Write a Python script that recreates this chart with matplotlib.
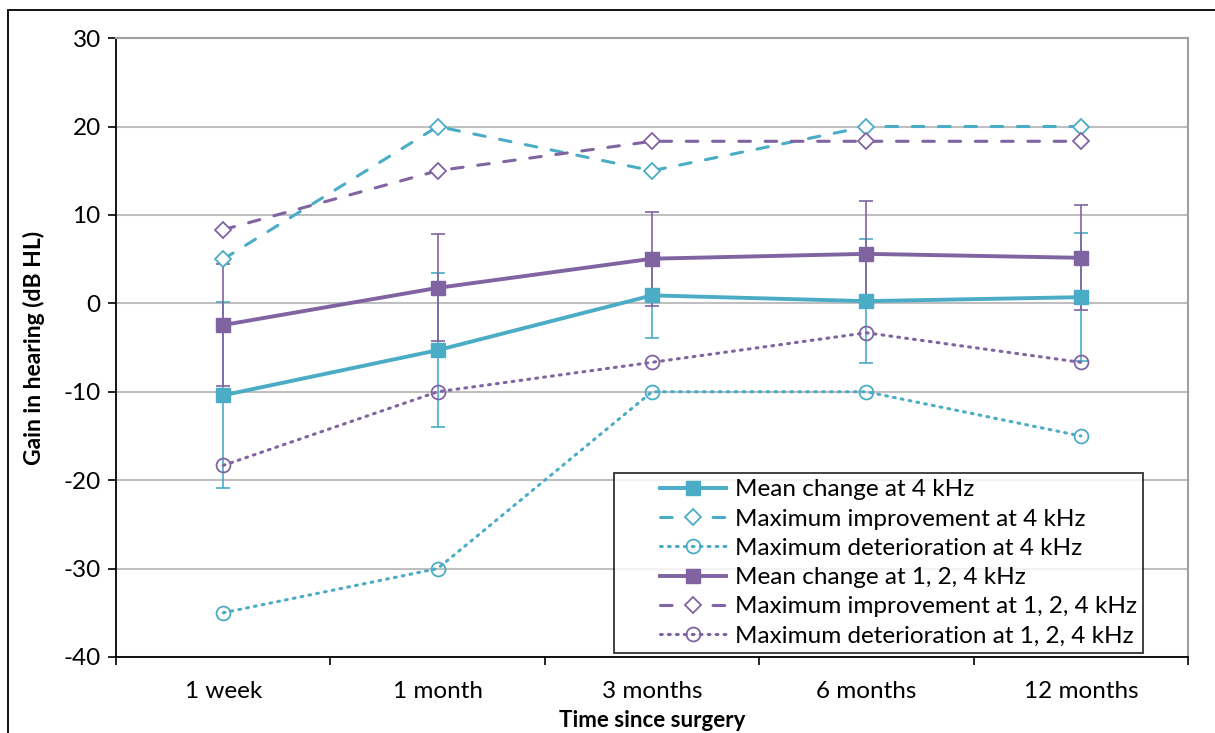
import numpy as np
import matplotlib
matplotlib.use("Agg")
import matplotlib.pyplot as plt
from matplotlib.patches import Rectangle
from matplotlib.lines import Line2D
from matplotlib.legend_handler import HandlerLine2D

plt.rcParams['font.family'] = ['Lato', 'DejaVu Sans']
plt.rcParams['axes.unicode_minus'] = False

# data
times = ['1 week', '1 month', '3 months', '6 months', '12 months']

mean_4k = [-10.4, -5.3, 0.9, 0.25, 0.7]
sd_4k = [10.5, 8.7, 4.8, 7.0, 7.25]
max_imp_4k = [5, 20, 15, 20, 20]
max_det_4k = [-35, -30, -10, -10, -15]

mean_124k = [-2.45, 1.75, 5.05, 5.6, 5.15]
sd_124k = [6.95, 6.05, 5.3, 6.0, 5.93]
max_imp_124k = [8.33, 15, 18.33, 18.33, 18.33]
max_det_124k = [-18.33, -10, -6.67, -3.33, -6.67]

cyan = '#4BACC6'
purple = '#8064A2'
fs = 17.5

fig = plt.figure(figsize=(12.15, 7.33), dpi=100)
ax = fig.add_axes([0.0955, 0.1037, 0.8823, 0.8443])

x = np.arange(len(times))

# error bars first
ax.errorbar(x, mean_4k, yerr=sd_4k, fmt='none', ecolor=cyan, elinewidth=1.2,
            capsize=4.7, capthick=1.2, zorder=3)
ax.errorbar(x, mean_124k, yerr=sd_124k, fmt='none', ecolor=purple, elinewidth=1.2,
            capsize=4.7, capthick=1.2, zorder=3)

dash = (0, (3.8, 4.8))
dot = (0, (0.6, 2.0))
ax.plot(x, mean_4k, color=cyan, lw=2.8, marker='s', ms=10,
        label='Mean change at 4 kHz', zorder=4)
ax.plot(x, max_imp_4k, color=cyan, lw=2.2, ls=dash, dash_capstyle='round', marker='D', ms=8.5,
        mfc='white', mew=1.3, label='Maximum improvement at 4 kHz', zorder=4)
ax.plot(x, max_det_4k, color=cyan, lw=2.2, ls=dot, dash_capstyle='round',
        marker='o', ms=10, mfc='none', mew=1.3, label='Maximum deterioration at 4 kHz', zorder=4)
ax.plot(x, mean_124k, color=purple, lw=2.8, marker='s', ms=10,
        label='Mean change at 1, 2, 4 kHz', zorder=4)
ax.plot(x, max_imp_124k, color=purple, lw=2.2, ls=dash, dash_capstyle='round', marker='D', ms=8.5,
        mfc='white', mew=1.3, label='Maximum improvement at 1, 2, 4 kHz', zorder=4)
ax.plot(x, max_det_124k, color=purple, lw=2.2, ls=dot, dash_capstyle='round',
        marker='o', ms=10, mfc='none', mew=1.3, label='Maximum deterioration at 1, 2, 4 kHz', zorder=4)

ax.set_xlim(-0.5, len(times) - 0.5)
ax.set_ylim(-40, 30)
ax.set_yticks(np.arange(-40, 31, 10))
ax.yaxis.grid(True, color='#BFBFBF', lw=1.5)
ax.set_axisbelow(True)

ax.set_xticks(x)
ax.set_xticklabels(times)
ax.set_xticks(np.arange(-0.5, len(times), 1), minor=True)
ax.tick_params(axis='x', which='major', length=0, pad=17, labelsize=fs)
ax.tick_params(axis='x', which='minor', length=6, width=1.2, direction='out')
ax.tick_params(axis='y', length=6, width=1.2, direction='out', labelsize=fs, pad=5)

for s in ['left', 'bottom']:
    ax.spines[s].set_color('black')
    ax.spines[s].set_linewidth(1.3)
for s in ['top', 'right']:
    ax.spines[s].set_color('#A0A0A0')
    ax.spines[s].set_linewidth(1.5)

ax.set_xlabel('Time since surgery', fontsize=16, fontweight='bold', labelpad=6)
ax.set_ylabel('Gain in hearing (dB HL)', fontsize=16.5, fontweight='bold', labelpad=13)

leg = ax.legend(loc='upper left', bbox_to_anchor=(0.4646, 0.297), borderaxespad=0,
                fontsize=fs, frameon=True, fancybox=False, edgecolor='black',
                handlelength=4.36, labelspacing=0.34, borderpad=0.25, handletextpad=0.37,
                handler_map={Line2D: HandlerLine2D(xpad=1.65)})
leg.get_frame().set_linewidth(1.3)
leg.set_zorder(10)

# outer chart border
fig.patches.append(Rectangle((8 / 1215, -0.1), 2, 1 - 10 / 733 + 0.1, transform=fig.transFigure,
                             fill=False, edgecolor='black', lw=1.3))

fig.savefig('out.png', dpi=100)
